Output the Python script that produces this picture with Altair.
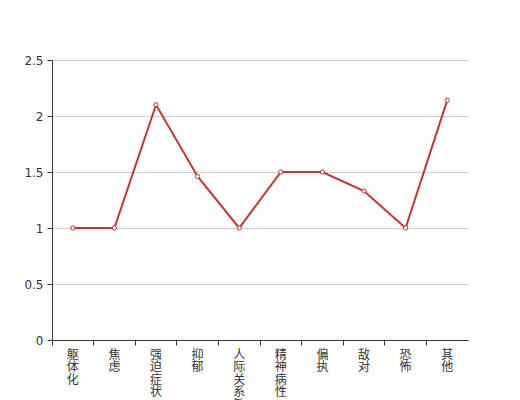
import altair as alt
import pandas as pd

categories = ["躯体化", "焦虑", "强迫症状", "抑郁", "人际关系敏感", "精神病性", "偏执", "敌对", "恐怖", "其他"]
values = [1, 1, 2.1, 1.46, 1, 1.5, 1.5, 1.33, 1, 2.14]
y_ticks = [0, 0.5, 1, 1.5, 2, 2.5]

df = pd.DataFrame({"cat": categories, "val": values})

chart = alt.Chart(df).mark_line(
    color="#c23531", strokeWidth=2,
    point=alt.OverlayMarkDef(filled=True, fill="white", stroke="#c23531", strokeWidth=1, size=18)
).encode(
    x=alt.X("cat:N", sort=categories, title=None,
            scale=alt.Scale(type="band", paddingInner=0, paddingOuter=0),
            axis=alt.Axis(labelAngle=0, labelExpr="split(datum.label, '')",
                          labelLineHeight=12.5, labelFontSize=12, labelColor="#333",
                          labelFont="Noto Sans CJK SC", labelPadding=3,
                          bandPosition=0, tickColor="#333", tickSize=5,
                          domainColor="#333", grid=False, labelBaseline="line-top",
                          labelOverlap=False)),
    y=alt.Y("val:Q", title=None,
            scale=alt.Scale(domain=[0, 2.5]),
            axis=alt.Axis(values=y_ticks, format="~g", labelFontSize=12,
                          labelColor="#333", tickColor="#333", tickSize=5,
                          domainColor="#333", gridColor="#ccc", labelPadding=4,
                          labelFont="DejaVu Sans"))
).properties(
    width=416, height=280,
    autosize=alt.AutoSizeParams(type="none"),
    padding={"left": 44, "top": 52, "right": 40, "bottom": 80}
).configure_view(stroke=None)

chart.save("out.html", embed_options={"renderer": "svg", "actions": False})
